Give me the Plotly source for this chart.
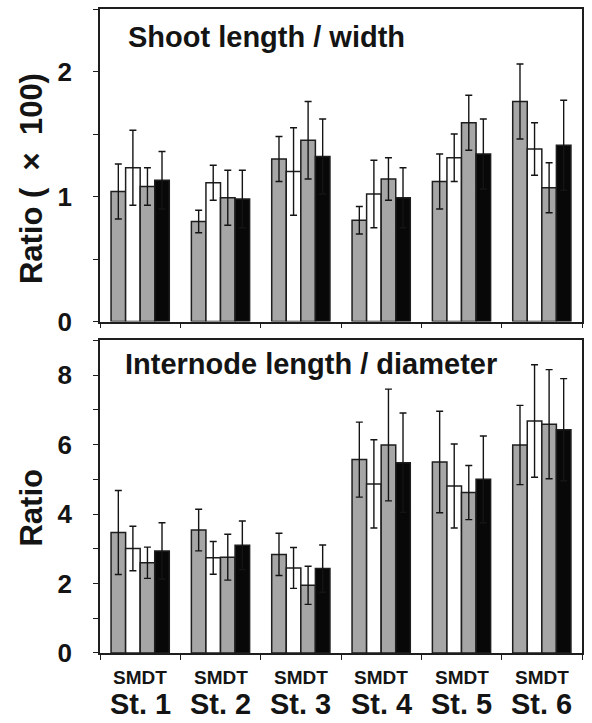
import plotly.graph_objects as go
from plotly.subplots import make_subplots

# Stage groups and treatments
stages = ["St. 1", "St. 2", "St. 3", "St. 4", "St. 5", "St. 6"]
treatments = ["S", "M", "D", "T"]

# Shoot length / width (x100)
shoot_S = [1.04, 0.80, 1.30, 0.81, 1.12, 1.76]
shoot_M = [1.23, 1.11, 1.20, 1.02, 1.31, 1.38]
shoot_D = [1.08, 0.99, 1.45, 1.14, 1.59, 1.07]
shoot_T = [1.13, 0.98, 1.32, 0.99, 1.34, 1.41]
shoot_S_err = [0.22, 0.09, 0.18, 0.11, 0.22, 0.30]
shoot_M_err = [0.30, 0.14, 0.35, 0.27, 0.19, 0.21]
shoot_D_err = [0.15, 0.22, 0.31, 0.17, 0.22, 0.20]
shoot_T_err = [0.23, 0.23, 0.30, 0.24, 0.28, 0.36]

# Internode length / diameter
inter_S = [3.47, 3.54, 2.84, 5.57, 5.50, 5.99]
inter_M = [3.01, 2.74, 2.45, 4.87, 4.81, 6.68]
inter_D = [2.60, 2.76, 1.95, 5.99, 4.62, 6.59]
inter_T = [2.94, 3.10, 2.43, 5.48, 5.00, 6.43]
inter_S_err = [1.21, 0.60, 0.61, 1.08, 1.46, 1.14]
inter_M_err = [0.64, 0.47, 0.59, 1.27, 1.21, 1.62]
inter_D_err = [0.45, 0.66, 0.55, 1.61, 0.78, 1.57]
inter_T_err = [0.81, 0.70, 0.68, 1.43, 1.25, 1.47]

fills = {"S": "#a6a6a6", "M": "#ffffff", "D": "#a6a6a6", "T": "#080808"}
FONT = "Liberation Sans, Arial, sans-serif"
INK = "#141414"
EDGE = "#1e1e1e"

fig = make_subplots(rows=2, cols=1, vertical_spacing=0.0294)

x = list(range(len(stages)))
panels = [
    (1, [shoot_S, shoot_M, shoot_D, shoot_T],
        [shoot_S_err, shoot_M_err, shoot_D_err, shoot_T_err]),
    (2, [inter_S, inter_M, inter_D, inter_T],
        [inter_S_err, inter_M_err, inter_D_err, inter_T_err]),
]
for row, vals, errs in panels:
    for t, v, e in zip(treatments, vals, errs):
        fig.add_trace(
            go.Bar(
                x=x, y=v, name=t, offsetgroup=t, showlegend=False,
                marker=dict(color=fills[t], line=dict(color=EDGE, width=1.5)),
                error_y=dict(type="data", array=e, visible=True,
                             color=INK, thickness=1.4, width=3.5),
            ),
            row=row, col=1,
        )

axis_line = dict(showline=True, linecolor=EDGE, linewidth=1.5, mirror=True,
                 showgrid=False, zeroline=False)

for r in (1, 2):
    fig.update_xaxes(
        range=[-0.5, 5.5], tickvals=[i - 0.5 for i in range(7)], showticklabels=False,
        ticks="outside", ticklen=5, tickwidth=1.3, tickcolor=EDGE,
        **axis_line, row=r, col=1,
    )

tick_font = dict(family=FONT, size=26, color=INK, weight="bold")
fig.update_yaxes(range=[0, 2.5], tickvals=[0, 1, 2], ticks="outside", ticklen=5,
                 tickwidth=1.3, tickcolor=EDGE, tickfont=tick_font,
                 minor=dict(dtick=0.5, ticks="outside", ticklen=5, tickwidth=1.3,
                            tickcolor=EDGE),
                 ticklabelstandoff=16, **axis_line, row=1, col=1)
fig.update_yaxes(range=[0, 9], tickvals=[0, 2, 4, 6, 8], ticks="outside", ticklen=5,
                 tickwidth=1.3, tickcolor=EDGE, tickfont=tick_font,
                 minor=dict(dtick=1, ticks="outside", ticklen=5, tickwidth=1.3,
                            tickcolor=EDGE),
                 ticklabelstandoff=16, **axis_line, row=2, col=1)

title_font = dict(family=FONT, size=29, color=INK, weight="bold")
ylab_font = dict(family=FONT, size=31, color=INK, weight="bold")
annotations = [
    dict(text="Shoot length / width", x=0.054, y=0.957, xref="paper", yref="paper",
         xanchor="left", yanchor="middle", showarrow=False, font=title_font),
    dict(text="Internode length / diameter", x=0.048, y=0.449, xref="paper", yref="paper",
         xanchor="left", yanchor="middle", showarrow=False, font=title_font),
    dict(text="Ratio (\u00a0\u00a0×\u00a0\u00a0100)", x=-0.143, y=0.736, xref="paper",
         yref="paper", xanchor="center", yanchor="middle", textangle=-90,
         showarrow=False, font=ylab_font),
    dict(text="Ratio", x=-0.143, y=0.226, xref="paper", yref="paper",
         xanchor="center", yanchor="middle", textangle=-90, showarrow=False,
         font=ylab_font),
]
for i, st in enumerate(stages):
    annotations.append(dict(text="".join(treatments), x=i, y=-0.0387, xref="x2",
                            yref="paper", xanchor="center", yanchor="middle",
                            showarrow=False,
                            font=dict(family=FONT, size=19, color=INK, weight="bold")))
    annotations.append(dict(text=st, x=i, y=-0.079, xref="x2", yref="paper",
                            xanchor="center", yanchor="middle", showarrow=False,
                            font=dict(family=FONT, size=29, color=INK, weight="bold")))

fig.update_layout(
    width=592, height=723,
    margin=dict(l=100, r=10, t=7, b=70),
    paper_bgcolor="white", plot_bgcolor="white",
    barmode="group", bargap=0.275, bargroupgap=0,
    annotations=annotations,
)

fig.write_html("out.html")
